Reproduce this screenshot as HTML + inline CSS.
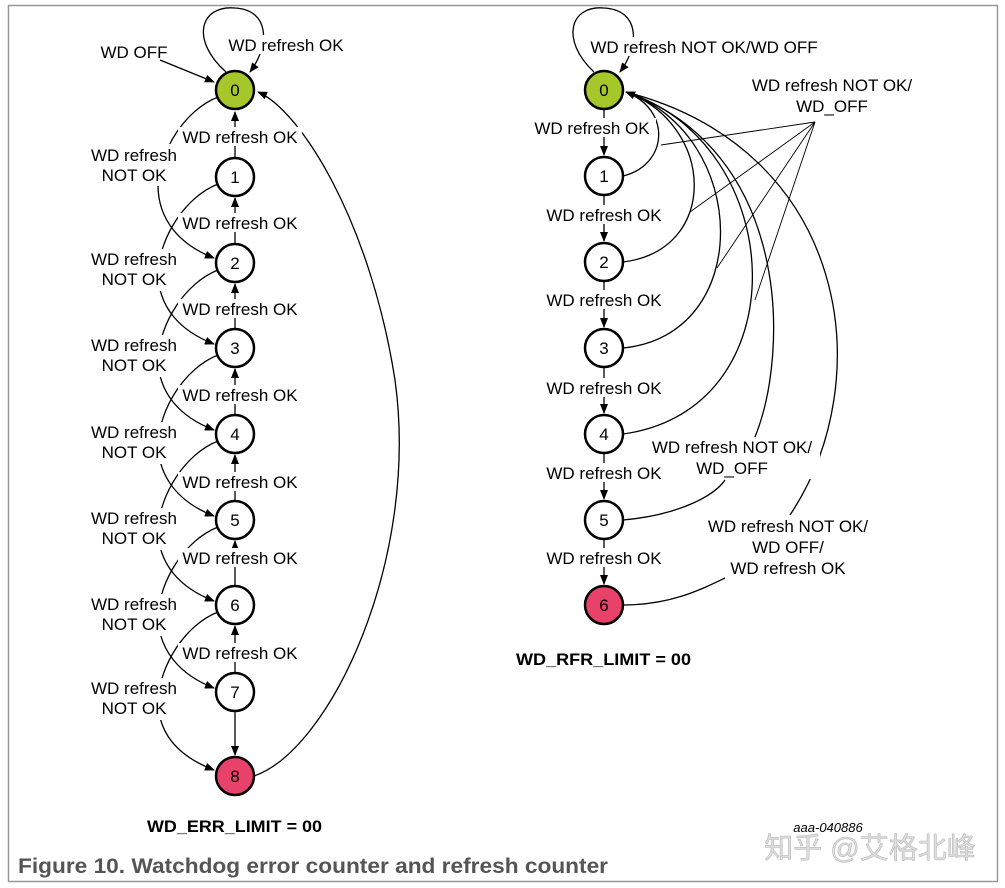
<!DOCTYPE html>
<html><head><meta charset="utf-8"><style>
html,body{margin:0;padding:0;background:#fff;}
svg{display:block;}
text{font-family:"Liberation Sans",Arial,sans-serif;}
</style></head><body>
<svg width="1005" height="888" viewBox="0 0 1005 888" xmlns="http://www.w3.org/2000/svg">
<defs>
<marker id="a" markerWidth="10" markerHeight="8" refX="9" refY="4" orient="auto" markerUnits="userSpaceOnUse"><path d="M0,0 L10,4 L0,8 z" fill="#000"/></marker>
</defs>
<rect x="8.5" y="5.5" width="989" height="876" fill="#fff" stroke="#999" stroke-width="1.5"/>
<g fill="none" stroke="#000" stroke-width="1.3">
<path d="M226,72 C190,40 200,5 235,8 C270,10 270,45 250,72" marker-end="url(#a)"/>
<path d="M160,60 L214,82" marker-end="url(#a)"/>
<path d="M254,776 C330,750 420,560 395,380 C370,220 300,110 258,92" marker-end="url(#a)"/>
<path d="M235,158 L235,112" marker-end="url(#a)"/>
<path d="M235,244 L235,198" marker-end="url(#a)"/>
<path d="M235,329 L235,284" marker-end="url(#a)"/>
<path d="M235,415 L235,369" marker-end="url(#a)"/>
<path d="M235,501 L235,455" marker-end="url(#a)"/>
<path d="M235,586 L235,541" marker-end="url(#a)"/>
<path d="M235,673 L235,626" marker-end="url(#a)"/>
<path d="M235,711 L235,755" marker-end="url(#a)"/>
<path d="M218,97 C185,110 160,150 158,185 C158,220 180,245 214,258" marker-end="url(#a)"/>
<path d="M218,184 C185,197 160,237 158,272 C158,307 180,331 214,344" marker-end="url(#a)"/>
<path d="M218,270 C185,283 160,323 158,358 C158,393 180,417 214,430" marker-end="url(#a)"/>
<path d="M218,355 C185,368 160,408 158,443 C158,478 180,503 214,516" marker-end="url(#a)"/>
<path d="M218,441 C185,454 160,494 158,529 C158,564 180,588 214,601" marker-end="url(#a)"/>
<path d="M218,527 C185,540 160,580 158,615 C158,650 180,675 214,688" marker-end="url(#a)"/>
<path d="M218,612 C185,625 160,665 158,700 C158,735 180,757 214,770" marker-end="url(#a)"/>
<path d="M594,72 C560,40 570,5 604,8 C640,10 640,45 620,72" marker-end="url(#a)"/>
<path d="M604,110 L604,155" marker-end="url(#a)"/>
<path d="M604,196 L604,241" marker-end="url(#a)"/>
<path d="M604,282 L604,327" marker-end="url(#a)"/>
<path d="M604,368 L604,413" marker-end="url(#a)"/>
<path d="M604,454 L604,499" marker-end="url(#a)"/>
<path d="M604,540 L604,584" marker-end="url(#a)"/>
<path d="M623,176 C668,165 672,110 626,92" marker-end="url(#a)"/>
<path d="M623,262 C720,250 715,125 626,92"/>
<path d="M623,348 C755,335 750,135 626,92"/>
<path d="M623,434 C800,410 790,145 626,92"/>
<path d="M623,520 C680,515 715,495 725,480 M755,437 C790,350 790,150 626,92"/>
<path d="M623,605 C670,605 700,590 725,578 M790,515 C880,380 850,150 626,92"/>
<g stroke-width="0.9">
<path d="M815,122 L661,145"/>
<path d="M815,122 L690,212"/>
<path d="M815,122 L717,268"/>
<path d="M815,122 L755,300"/>
</g>
</g>
<g font-size="17" fill="#000" text-anchor="middle">
<g fill="#fff"><rect x="178" y="127" width="124" height="19"/><rect x="178" y="213" width="124" height="19"/><rect x="178" y="299" width="124" height="19"/><rect x="178" y="385" width="124" height="19"/><rect x="178" y="472" width="124" height="19"/><rect x="178" y="548" width="124" height="19"/><rect x="178" y="643" width="124" height="19"/>
<rect x="86" y="144" width="96" height="42"/><rect x="86" y="249" width="96" height="42"/><rect x="86" y="335" width="96" height="42"/><rect x="86" y="422" width="96" height="42"/><rect x="86" y="508" width="96" height="42"/><rect x="86" y="594" width="96" height="42"/><rect x="86" y="678" width="96" height="42"/>
<rect x="223" y="35" width="126" height="19"/>
<rect x="528" y="118" width="128" height="19"/><rect x="540" y="205" width="128" height="19"/><rect x="540" y="290" width="128" height="19"/><rect x="540" y="378" width="128" height="19"/><rect x="540" y="463" width="128" height="19"/><rect x="540" y="548" width="128" height="19"/>
<rect x="585" y="37" width="240" height="19"/>
<rect x="645" y="437" width="175" height="42"/><rect x="700" y="515" width="175" height="62"/>
</g>
<text x="134" y="58">WD OFF</text>
<text x="286" y="51">WD refresh OK</text>
<text x="240" y="143">WD refresh OK</text>
<text x="240" y="229">WD refresh OK</text>
<text x="240" y="315">WD refresh OK</text>
<text x="240" y="401">WD refresh OK</text>
<text x="240" y="488">WD refresh OK</text>
<text x="240" y="564">WD refresh OK</text>
<text x="240" y="659">WD refresh OK</text>
<text x="134" y="161">WD refresh</text><text x="134" y="181">NOT OK</text>
<text x="134" y="265">WD refresh</text><text x="134" y="285">NOT OK</text>
<text x="134" y="351">WD refresh</text><text x="134" y="371">NOT OK</text>
<text x="134" y="438">WD refresh</text><text x="134" y="458">NOT OK</text>
<text x="134" y="524">WD refresh</text><text x="134" y="544">NOT OK</text>
<text x="134" y="610">WD refresh</text><text x="134" y="630">NOT OK</text>
<text x="134" y="694">WD refresh</text><text x="134" y="714">NOT OK</text>
<text x="704" y="53">WD refresh NOT OK/WD OFF</text>
<text x="832" y="91">WD refresh NOT OK/</text><text x="832" y="112">WD_OFF</text>
<text x="592" y="134">WD refresh OK</text>
<text x="604" y="221">WD refresh OK</text>
<text x="604" y="306">WD refresh OK</text>
<text x="604" y="394">WD refresh OK</text>
<text x="604" y="479">WD refresh OK</text>
<text x="604" y="564">WD refresh OK</text>
<text x="732" y="453">WD refresh NOT OK/</text><text x="732" y="474">WD_OFF</text>
<text x="788" y="532">WD refresh NOT OK/</text><text x="788" y="553">WD OFF/</text><text x="788" y="574">WD refresh OK</text>
</g>
<g stroke="#000" stroke-width="2.5">
<circle cx="235" cy="90" r="19" fill="#a6c729"/>
<circle cx="235" cy="177" r="19" fill="#fff"/>
<circle cx="235" cy="263" r="19" fill="#fff"/>
<circle cx="235" cy="348" r="19" fill="#fff"/>
<circle cx="235" cy="434" r="19" fill="#fff"/>
<circle cx="235" cy="520" r="19" fill="#fff"/>
<circle cx="235" cy="605" r="19" fill="#fff"/>
<circle cx="235" cy="692" r="19" fill="#fff"/>
<circle cx="235" cy="776" r="19" fill="#e8426a"/>
<circle cx="604" cy="90" r="19" fill="#a6c729"/>
<circle cx="604" cy="176" r="19" fill="#fff"/>
<circle cx="604" cy="262" r="19" fill="#fff"/>
<circle cx="604" cy="348" r="19" fill="#fff"/>
<circle cx="604" cy="434" r="19" fill="#fff"/>
<circle cx="604" cy="520" r="19" fill="#fff"/>
<circle cx="604" cy="605" r="19" fill="#e8426a"/>
</g>
<g font-size="17" text-anchor="middle" fill="#000">
<text x="235" y="96">0</text><text x="235" y="183">1</text><text x="235" y="269">2</text><text x="235" y="354">3</text><text x="235" y="440">4</text><text x="235" y="526">5</text><text x="235" y="611">6</text><text x="235" y="698">7</text><text x="235" y="782">8</text>
<text x="604" y="96">0</text><text x="604" y="182">1</text><text x="604" y="268">2</text><text x="604" y="354">3</text><text x="604" y="440">4</text><text x="604" y="526">5</text><text x="604" y="611">6</text>
</g>
<text x="147" y="832" font-size="17" font-weight="bold" textLength="175" lengthAdjust="spacingAndGlyphs">WD_ERR_LIMIT = 00</text>
<text x="516" y="665" font-size="17" font-weight="bold" textLength="175" lengthAdjust="spacingAndGlyphs">WD_RFR_LIMIT = 00</text>
<text x="828" y="832" font-size="13" font-style="italic" text-anchor="middle">aaa-040886</text>
<text x="870" y="858" font-size="29" fill="#ddd" stroke="#bbb" stroke-width="0.6" text-anchor="middle" style="font-family:'Liberation Sans','Noto Sans CJK SC',sans-serif">知乎 @艾格北峰</text>
<text x="18" y="873" font-size="21" font-weight="bold" fill="#555" textLength="590" lengthAdjust="spacingAndGlyphs">Figure 10.  Watchdog error counter and refresh counter</text>
</svg>
</body></html>
